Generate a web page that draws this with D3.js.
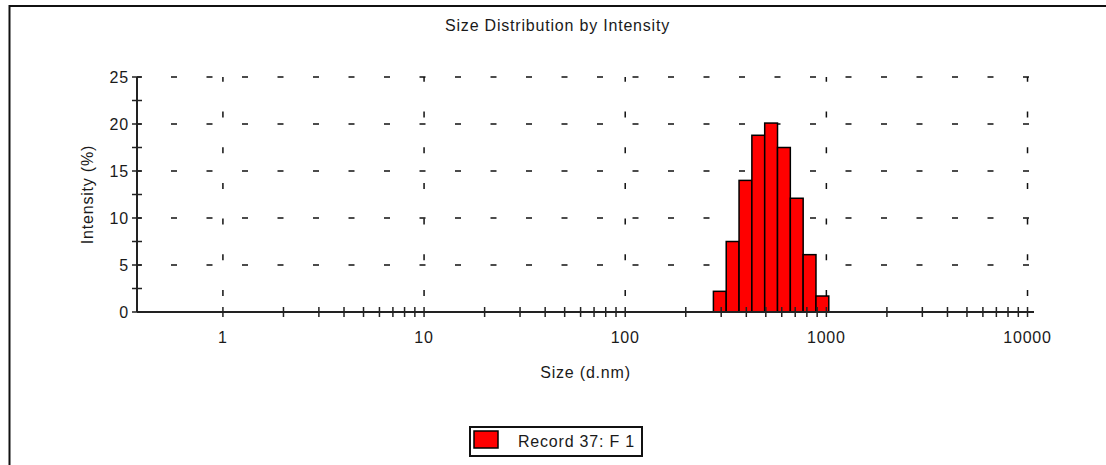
<!DOCTYPE html>
<html>
<head>
<meta charset="utf-8">
<script src="https://cdn.jsdelivr.net/npm/d3@7"></script>
<style>
  body { margin: 0; background: #fff; }
  text { font-family: "Liberation Sans", Arial, sans-serif; font-size: 16px; fill: #1a1a1a; letter-spacing: 0.8px; }
</style>
</head>
<body>
<svg id="chart" width="1106" height="465"></svg>
<script>

// bin centres (d.nm) and intensity (%)
var sizes = [295.3, 342.0, 396.1, 458.7, 531.2, 615.1, 712.4, 825.0, 955.4];
var intensity = [2.2, 7.5, 14.0, 18.8, 20.1, 17.5, 12.1, 6.1, 1.7];

var xMajor = [1, 10, 100, 1000, 10000];
var yMajor = [0, 5, 10, 15, 20, 25];
var yMinor = [2.5, 7.5, 12.5, 17.5, 22.5];
var seriesName = "Record 37: F 1";

var svg = d3.select("#chart");

// frame (top + left edge only)
svg.append("line")
.attr("x1", 9.5).attr("y1", 6)
.attr("x2", 1106).attr("y2", 6)
.attr("stroke", "#111").attr("stroke-width", 2);
svg.append("line")
.attr("x1", 9.5).attr("y1", 5)
.attr("x2", 9.5).attr("y2", 465)
.attr("stroke", "#111").attr("stroke-width", 2);

var x = d3.scaleLog()
.domain([0.374, 10770])
.range([137, 1034]);

var y = d3.scaleLinear()
.domain([0, 25])
.range([312, 77]);

var xMinor = [];
xMajor.slice(0, -1).forEach(function(d) {
  for (var k = 2; k < 10; k++) xMinor.push(d * k);
});

// grid: dashed lines at each decade and every 5 %
var grid = svg.append("g").attr("stroke", "#111").attr("stroke-width", 1.5);
grid.selectAll(".hgrid")
.data(yMajor.slice(1))
.enter().append("line")
.attr("x1", x.range()[0]).attr("x2", x(10000) + 2)
.attr("y1", function(d) { return y(d); })
.attr("y2", function(d) { return y(d); })
.attr("stroke-dasharray", "6,29.5")
.attr("stroke-dashoffset", 1.5);

grid.selectAll(".vgrid")
.data(xMajor)
.enter().append("line")
.attr("x1", function(d) { return x(d); })
.attr("x2", function(d) { return x(d); })
.attr("y1", y(0)).attr("y2", y(25))
.attr("stroke-dasharray", "6,29.7")
.attr("stroke-dashoffset", 19.7);

// bars, each spanning its log bin
var ratio = Math.sqrt(sizes[1] / sizes[0]);
svg.append("g")
.selectAll("rect")
.data(sizes)
.enter().append("rect")
.attr("x", function(d) { return x(d / ratio); })
.attr("width", function(d) { return x(d * ratio) - x(d / ratio); })
.attr("y", function(d, i) { return y(intensity[i]); })
.attr("height", function(d, i) { return y(0) - y(intensity[i]); })
.attr("fill", "#ff0000")
.attr("stroke", "#000")
.attr("stroke-width", 1.5);

// axes
var axes = svg.append("g").attr("stroke", "#222").attr("stroke-width", 2);
axes.append("line")
.attr("x1", x.range()[0]).attr("x2", x.range()[1])
.attr("y1", y(0)).attr("y2", y(0));
axes.append("line")
.attr("x1", x.range()[0]).attr("x2", x.range()[0])
.attr("y1", y(0)).attr("y2", y(25));

axes.selectAll(".xtick")
.data(xMajor.concat(xMinor))
.enter().append("line")
.attr("stroke-width", 1.5)
.attr("x1", function(d) { return x(d); })
.attr("x2", function(d) { return x(d); })
.attr("y1", y(0) - 5).attr("y2", y(0) + 5);

axes.selectAll(".ytick")
.data(yMajor.concat(yMinor))
.enter().append("line")
.attr("stroke-width", 1.5)
.attr("x1", x.range()[0] - 5).attr("x2", x.range()[0] + 5)
.attr("y1", function(d) { return y(d); })
.attr("y2", function(d) { return y(d); });

svg.selectAll(".xlabel")
.data(xMajor)
.enter().append("text")
.attr("x", function(d) { return x(d); })
.attr("y", 343)
.attr("text-anchor", "middle")
.text(function(d) { return d; });

svg.selectAll(".ylabel")
.data(yMajor)
.enter().append("text")
.attr("x", 129)
.attr("y", function(d) { return y(d) + 6; })
.attr("text-anchor", "end")
.text(function(d) { return d; });

// titles
svg.append("text")
.attr("x", 557.5).attr("y", 31)
.attr("text-anchor", "middle")
.text("Size Distribution by Intensity");

svg.append("text")
.attr("x", (x.range()[0] + x.range()[1]) / 2).attr("y", 378)
.attr("text-anchor", "middle")
.text("Size (d.nm)");

svg.append("text")
.attr("transform", "translate(93," + (y(0) + y(25)) / 2 + ") rotate(-90)")
.attr("text-anchor", "middle")
.text("Intensity (%)");

// legend
var legend = svg.append("g");
legend.append("rect")
.attr("x", 470).attr("y", 427)
.attr("width", 172).attr("height", 29)
.attr("fill", "#fff")
.attr("stroke", "#111")
.attr("stroke-width", 2);
legend.append("rect")
.attr("x", 474).attr("y", 431)
.attr("width", 24).attr("height", 17)
.attr("fill", "#ff0000")
.attr("stroke", "#000")
.attr("stroke-width", 1.5);
legend.append("text")
.attr("x", 518).attr("y", 447)
.text(seriesName);

</script>
</body>
</html>
